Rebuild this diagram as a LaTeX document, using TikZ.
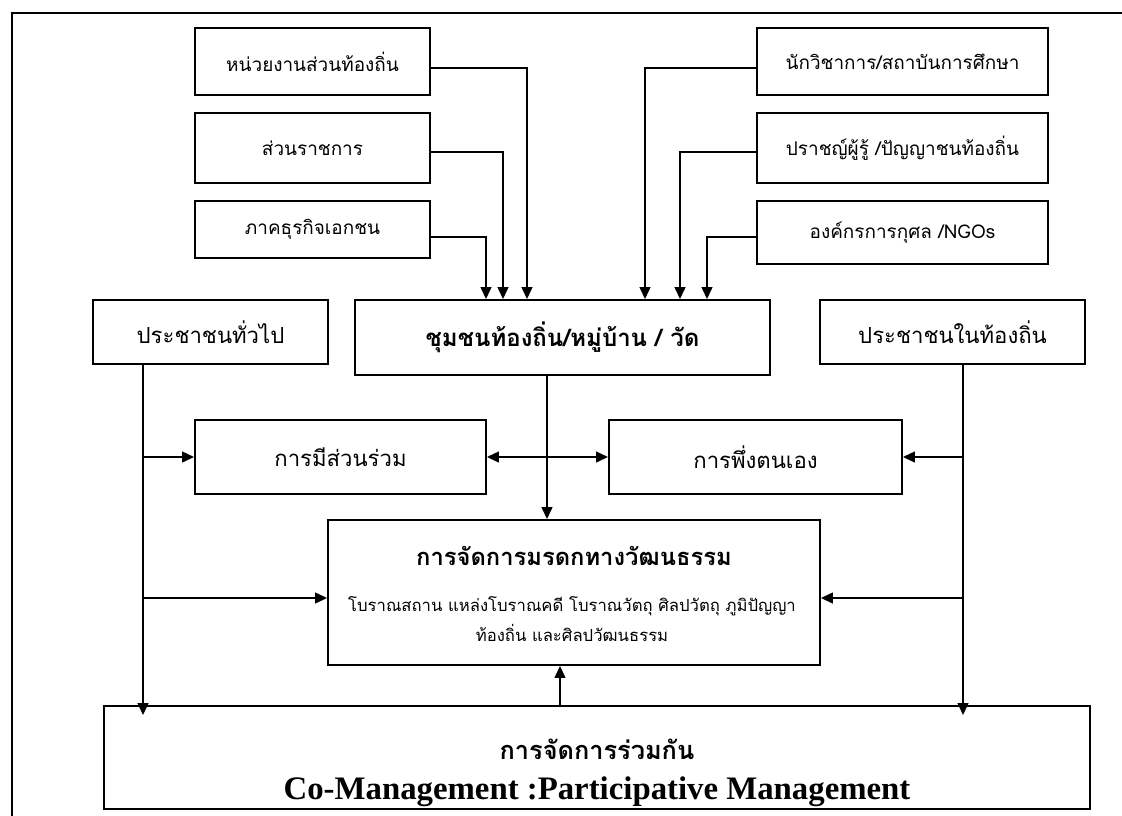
\documentclass[tikz,border=0pt]{standalone}
\usepackage{fontspec}
\setmainfont{Liberation Serif}
\newfontfamily\thai[Script=Thai]{Loma}
\usetikzlibrary{arrows.meta,calc}

\tikzset{
  box/.style 2 args={draw, line width=1.3pt, inner sep=2pt,
    minimum width=#1, minimum height=#2, align=center},
  arr/.style={line width=1.6pt, -{Triangle[length=9pt,width=8pt]}},
  both/.style={line width=1.6pt, {Triangle[length=9pt,width=8pt]}-{Triangle[length=9pt,width=8pt]}},
  small/.style={font=\thai\fontsize{14.2}{18}\selectfont},
  big/.style={font=\thai\fontsize{16.6}{20}\selectfont},
}

\begin{document}
\begin{tikzpicture}[x=0.75pt,y=-0.75pt]
\useasboundingbox (0,0) rectangle (1122,815);

% page frame, runs off to the right and bottom
\draw[line width=1.3pt] (12,13) rectangle (1140,830);

% top rows: partners on the left and right
\node[box={176.3pt}{50.3pt}, small] (gov) at (312.5,61.5) {หน่วยงานส่วนท้องถิ่น};
\node[box={176.3pt}{52.5pt}, small] (offi) at (312.5,148) {ส่วนราชการ};
\node[box={176.3pt}{42.8pt}, small] (biz) at (312.5,229.5) {ภาคธุรกิจเอกชน};
\node[box={218.3pt}{50.3pt}, small] (acad) at (902.5,61.5) {นักวิชาการ/สถาบันการศึกษา};
\node[box={218.3pt}{52.5pt}, small] (sage) at (902.5,148) {ปราชญ์ผู้รู้ /ปัญญาชนท้องถิ่น};
\node[box={218.3pt}{47.3pt}, small] (ngo) at (902.5,232.5) {องค์กรการกุศล /NGOs};

% middle row
\node[box={176.3pt}{48pt}, big] (pub) at (210.5,332) {ประชาชนทั่วไป};
\node[box={311.3pt}{56.3pt}, font=\thai\bfseries\fontsize{18}{22}\selectfont] (hub) at (562.5,337.5) {ชุมชนท้องถิ่น/หมู่บ้าน / วัด};
\node[box={198.8pt}{48pt}, big] (loc) at (952.5,332) {ประชาชนในท้องถิ่น};

\node[box={218.3pt}{55.5pt}, big] (part) at (340.5,457) {การมีส่วนร่วม};
\node[box={219.8pt}{55.5pt}, big] (self) at (755.5,457) {การพึ่งตนเอง};

% heritage box
\node[box={369pt}{108.8pt}] (heri) at (574,592.5) {};
\node[font=\thai\bfseries\fontsize{17.8}{22}\selectfont] (heritit) at (574,556) {การจัดการมรดกทางวัฒนธรรม};
\node[font=\thai\fontsize{12.5}{22.5}\selectfont, align=center] (herisub) at (572,619)
  {โบราณสถาน แหล่งโบราณคดี โบราณวัตถุ ศิลปวัตถุ ภูมิปัญญา\\ท้องถิ่น และศิลปวัฒนธรรม};

% co-management box
\node[box={739.5pt}{77.3pt}] (co) at (597,757.5) {};
\node[font=\thai\bfseries\fontsize{19}{22}\selectfont] (cothai) at ($(co.center)+(0,-8)$) {การจัดการร่วมกัน};
\node[font=\bfseries\fontsize{24.6}{28}\selectfont] (coeng) at ($(co.center)+(0,34)$) {Co-Management :Participative Management};

% partners into the community
\draw[arr] ($(gov.east)+(0,6.5)$) -| ($(hub.north)+(-35.5,0)$);
\draw[arr] ($(offi.east)+(0,4)$) -| ($(hub.north)+(-59.5,0)$);
\draw[arr] ($(biz.east)+(0,7.5)$) -| ($(hub.north)+(-76.5,0)$);
\draw[arr] ($(acad.west)+(0,6.5)$) -| ($(hub.north)+(82.5,0)$);
\draw[arr] ($(sage.west)+(0,4)$) -| ($(hub.north)+(117.5,0)$);
\draw[arr] ($(ngo.west)+(0,4.5)$) -| ($(hub.north)+(144.5,0)$);

% community down to heritage
\coordinate (hubout) at ($(hub.south)+(-15.5,0)$);
\draw[arr] (hubout) -- (hubout |- heri.north);
\draw[both] (part.east) -- (self.west);

% people trunks
\coordinate (ltop) at ($(pub.south)+(-67.5,0)$);
\coordinate (rtop) at ($(loc.south)+(10.5,0)$);
\coordinate (lbot) at ($(ltop |- co.north)+(0,10)$);
\coordinate (rbot) at ($(rtop |- co.north)+(0,10)$);
\draw[arr] (ltop) -- (lbot);
\draw[arr] (rtop) -- (rbot);
\draw[arr] (ltop |- part.west) -- (part.west);
\draw[arr] (rtop |- self.east) -- (self.east);
\coordinate (herilin) at ($(heri.west)+(0,5.5)$);
\coordinate (heririn) at ($(heri.east)+(0,5.5)$);
\draw[arr] (ltop |- herilin) -- (herilin);
\draw[arr] (rtop |- heririn) -- (heririn);

% co-management feeds back up
\coordinate (coup) at ($(co.north)+(-37,0)$);
\draw[arr] (coup) -- (coup |- heri.south);

\end{tikzpicture}
\end{document}
